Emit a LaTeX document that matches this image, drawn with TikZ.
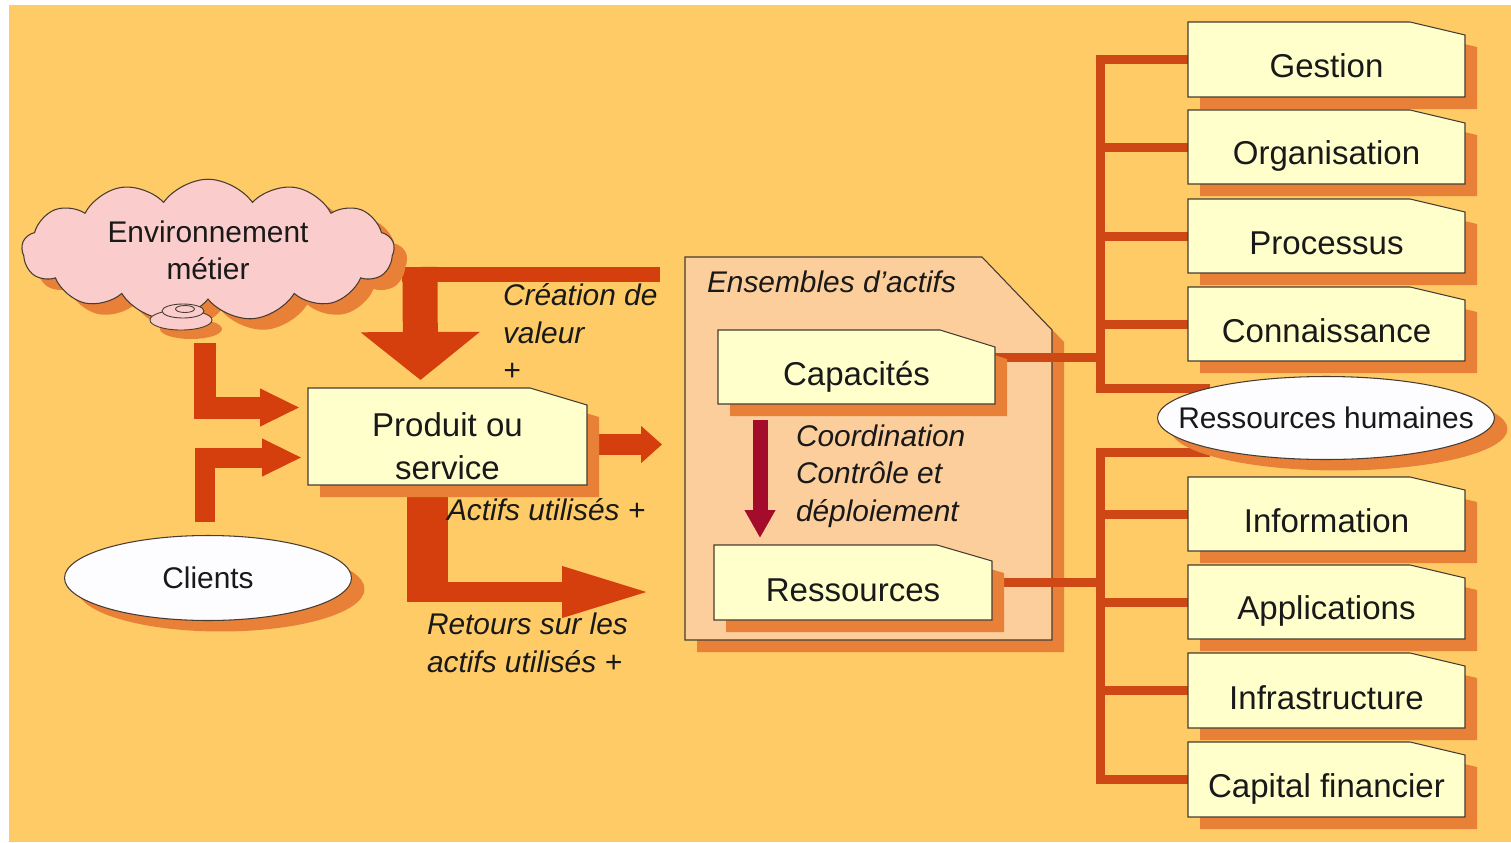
\documentclass[tikz,border=0pt]{standalone}
\usepackage{fontspec}
\setmainfont{Liberation Sans}
\usetikzlibrary{shapes.geometric,shapes.symbols,arrows.meta,calc,shadows}

\definecolor{pagebg}{RGB}{254,203,102}
\definecolor{flow}{RGB}{213,63,14}
\definecolor{linkc}{RGB}{206,72,22}
\definecolor{shadowc}{RGB}{232,128,56}
\definecolor{boxfill}{RGB}{255,255,204}
\definecolor{setfill}{RGB}{252,206,156}
\definecolor{cloudfill}{RGB}{251,204,204}
\definecolor{ctrl}{RGB}{163,12,42}
\definecolor{edge}{RGB}{70,60,50}
\definecolor{textc}{RGB}{25,25,25}
\definecolor{ovalfill}{RGB}{253,253,255}

\newcommand\boxtextfont{\fontsize{18.8pt}{24.5pt}\selectfont}
\newcommand\ovaltextfont{\fontsize{17pt}{21pt}\selectfont}
\newcommand\notetextfont{\fontsize{17pt}{21.3pt}\selectfont\itshape}

\pgfdeclarelayer{back}
\pgfdeclarelayer{lower}
\pgfdeclarelayer{middle}
\pgfsetlayers{back,lower,middle,main}

% folded-corner box with its shadow:
% #1 name, #2 left, #3 top, #4 right, #5 bottom, #6 fold width, #7 fold height,
% #8 text, #9 text offset from the centre
\newcommand\foldedbox[9]{%
  \fill[shadowc] (#2+12,#3+12) -- (#4+12-#6,#3+12) -- (#4+12,#3+12+#7)
    -- (#4+12,#5+12) -- (#2+12,#5+12) -- cycle;
  \path[foldbody] (#2,#3) -- (#4-#6,#3) -- (#4,#3+#7) -- (#4,#5) -- (#2,#5) -- cycle;
  \node[minimum width={(#4-#2)*0.02cm}, minimum height={(#5-#3)*0.02cm}]
    (#1) at ({(#2+#4)/2},{(#3+#5)/2}) {};
  \node[boxtext] at ($(#1.center)+(#9)$) {#8};
}

\begin{document}
\begin{tikzpicture}[x=0.02cm,y=-0.02cm,
  every node/.style={inner sep=0pt,outer sep=0pt,text=textc},
  foldbody/.style={fill=boxfill,draw=edge,line width=0.6pt},
  boxtext/.style={font=\boxtextfont,align=center},
  note/.style={font=\notetextfont,align=left,anchor=west},
  dshadow/.style={drop shadow={shadow xshift=0.26cm,shadow yshift=-0.22cm,fill=shadowc,opacity=1}},
  oval/.style={ellipse,draw=edge,line width=0.6pt,fill=ovalfill,
    font=\ovaltextfont,dshadow},
  flowarrow/.style={draw=flow,line join=miter,line cap=butt},
  linkline/.style={draw=linkc,line width=0.18cm,line join=miter,line cap=butt}]

% page
\begin{pgfonlayer}{back}
  \fill[white] (0,0) rectangle (1511,842);
  \fill[pagebg] (9,5) rectangle (1511,842);
\end{pgfonlayer}
\useasboundingbox (0,0) rectangle (1511,842);

% asset set frame
\begin{pgfonlayer}{lower}
  \begin{scope}[foldbody/.style={fill=setfill,draw=edge,line width=0.6pt}]
    \foldedbox{ens}{685}{257}{1052}{640}{70}{73}{\notetextfont Ensembles d’actifs}{-37,-167}
  \end{scope}
\end{pgfonlayer}

% business environment cloud
\node[cloud,cloud puffs=13,cloud puff arc=110,aspect=2.6,minimum width=7.45cm,
  minimum height=2.8cm,fill=cloudfill,draw=edge,line width=0.6pt,dshadow,
  font=\ovaltextfont,align=center] (env) at (208,250) {Environnement\\métier};
\fill[shadowc] (191,329) ellipse [x radius=0.62cm,y radius=0.2cm];
\filldraw[fill=cloudfill,draw=edge,line width=0.5pt] (181,320) ellipse [x radius=0.62cm,y radius=0.2cm];
\filldraw[fill=cloudfill,draw=edge,line width=0.5pt] (183,311) ellipse [x radius=0.42cm,y radius=0.14cm];
\filldraw[fill=cloudfill,draw=edge,line width=0.5pt] (185,309) ellipse [x radius=0.19cm,y radius=0.07cm];

% ovals
\node[oval,minimum width=5.74cm,minimum height=1.7cm] (cli) at (208,578)
  {\makebox[0pt]{Clients}};
\node[oval,minimum width=6.74cm,minimum height=1.66cm] (rh) at (1326,418)
  {\makebox[0pt]{Ressources humaines}};

% boxes
\foldedbox{prod}{308}{388}{587}{485}{57}{17}{Produit ou\\service}{0,10}
\foldedbox{cap}{718}{330}{995}{404}{55}{17}{Capacités}{0,10}
\foldedbox{res}{714}{545}{992}{620}{55}{16}{Ressources}{0,8}

\foldedbox{ges}{1188}{22}{1465}{97}{55}{13}{Gestion}{0,6}
\foldedbox{org}{1188}{110}{1465}{184}{55}{13}{Organisation}{0,9}
\foldedbox{pro}{1188}{199}{1465}{273}{55}{13}{Processus}{0,7}
\foldedbox{con}{1188}{287}{1465}{361}{55}{13}{Connaissance}{0,7}
\foldedbox{inf}{1188}{477}{1465}{551}{55}{13}{Information}{0,7}
\foldedbox{app}{1188}{565}{1465}{639}{55}{13}{Applications}{0,9}
\foldedbox{ift}{1188}{653}{1465}{728}{55}{13}{Infrastructure}{0,7}
\foldedbox{cf}{1188}{742}{1465}{817}{55}{13}{Capital financier}{0,9}

% italic notes
\node[note] (crea) at (503,332) {Création de\\valeur\\+};
\node[note] (used) at (447,510) {Actifs utilisés +};
\node[note] (ret) at (427,643) {Retours sur les\\actifs utilisés +};
\node[note] (coord) at (796,476) {Coordination\\Contrôle et\\déploiement};

% block arrows
\begin{pgfonlayer}{lower}
  \coordinate (envOut) at (205,343);
  \coordinate (cliOut) at (205,522);
  \coordinate (valIn) at (660,274.5);
  \coordinate (crTop) at (420,267);
  \draw[flowarrow,line width=0.44cm,-{Triangle[length=0.8cm,width=0.7cm]}]
    (envOut) |- ($(prod.west)+(-8,-29)$);
  \draw[flowarrow,line width=0.4cm,-{Triangle[length=0.8cm,width=0.7cm]}]
    (cliOut) |- ($(prod.west)+(-6,21)$);
  \draw[flowarrow,line width=0.3cm] (valIn) -- ($(valIn -| crTop)+(-18,0)$);
  \draw[flowarrow,line width=0.7cm,-{Triangle[length=0.96cm,width=2.34cm]}]
    (crTop) -- ($(prod.north)+(-27,-8)$);
  \draw[flowarrow,line width=0.42cm,-{Triangle[length=0.42cm,width=0.72cm]}]
    ($(prod.east)+(0,8)$) -- ($(ens.west)+(-23,-4)$);
  % returns: wide stem, narrower bar
  \coordinate (retStart) at ($(prod.south)+(-20,0)$);
  \coordinate (retTip) at ($(ens.west)+(-30,143.5)$);
  \draw[flowarrow,line width=0.4cm,-{Triangle[length=1.86cm,width=0.9cm]}]
    (retStart) |- (retTip);
  \draw[flowarrow,line width=0.82cm] (retStart) -- ($(retStart |- retTip)+(0,10)$);
\end{pgfonlayer}

% coordination arrow
\draw[draw=ctrl,line width=0.3cm,-{Triangle[length=0.56cm,width=0.58cm]}]
  ($(cap.south west)+(42,16)$) -- ($(res.north west)+(46,-7)$);

% links to the asset kinds
\begin{pgfonlayer}{middle}
  \draw[linkline] (ges.west) -- ++(-88,0) coordinate (uTop) |- ($(rh.center)+(-116,-30)$);
  \foreach \nm in {org,pro,con} \draw[linkline] (\nm.west) -- (\nm.west -| uTop);
  \coordinate (capOut) at ($(cap.east)+(0,-10)$);
  \draw[linkline] (capOut) -- (capOut -| uTop);
  \draw[linkline] (cf.west) -- ++(-88,0) coordinate (lBot) |- ($(rh.center)+(-116,34)$);
  \foreach \nm in {inf,app,ift} \draw[linkline] (\nm.west) -- (\nm.west -| lBot);
  \draw[linkline] (res.east) -- (res.east -| lBot);
\end{pgfonlayer}
\end{tikzpicture}
\end{document}
